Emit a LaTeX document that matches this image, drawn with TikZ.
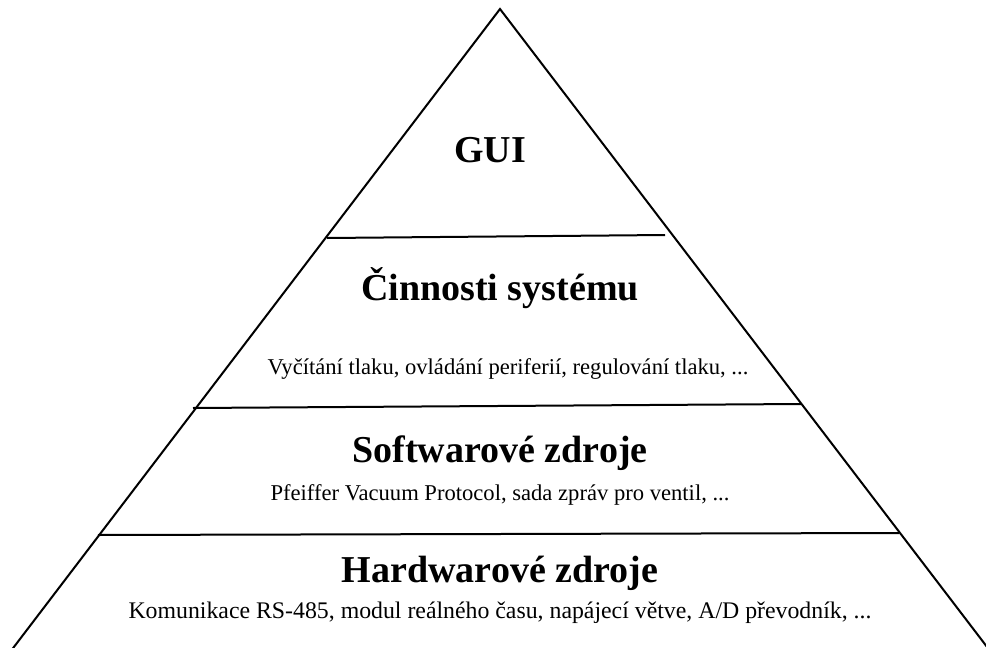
\documentclass[tikz,border=0pt]{standalone}
\usepackage{fontspec}
\setmainfont{Liberation Serif}
\begin{document}
\begin{tikzpicture}[x=1pt,y=-1pt,
  edge/.style={line width=2pt,line join=miter},
  title/.style={font=\fontsize{38}{40}\selectfont\bfseries,anchor=base,inner sep=0pt},
  detail/.style={font=\fontsize{22.6}{25}\selectfont,anchor=base,inner sep=0pt}]
  \useasboundingbox (0,0) rectangle (986,648);
  % pyramid outline
  \coordinate (apex) at (500,9);
  \coordinate (bl) at (4,660);
  \coordinate (br) at (997,660);
  \begin{scope}
    \clip (0,0) rectangle (986,648);
    \draw[edge] (bl) -- (apex) -- (br);
  \end{scope}
  % layer separators
  \coordinate (l1a) at (327,238); \coordinate (l1b) at (665,235);
  \coordinate (l2a) at (193,408); \coordinate (l2b) at (801,404);
  \coordinate (l3a) at (98,535);  \coordinate (l3b) at (899,533);
  \draw[edge] (l1a) -- (l1b);
  \draw[edge] (l2a) -- (l2b);
  \draw[edge] (l3a) -- (l3b);
  % layer labels
  \node[title] (gui) at (490,162) {GUI};
  \node[title] (cinn) at (500,300) {Činnosti systému};
  \node[detail] (cinnd) at (508,374) {Vyčítání tlaku, ovládání periferií, regulování tlaku, ...};
  \node[title] (sw) at (500,462) {Softwarové zdroje};
  \node[detail] (swd) at (500,500) {Pfeiffer Vacuum Protocol, sada zpráv pro ventil, ...};
  \node[title] (hw) at (500,582) {Hardwarové zdroje};
  \node[detail,font=\fontsize{23.8}{26}\selectfont] (hwd) at (500,618) {Komunikace RS-485, modul reálného času, napájecí větve, A/D převodník, ...};
\end{tikzpicture}
\end{document}
